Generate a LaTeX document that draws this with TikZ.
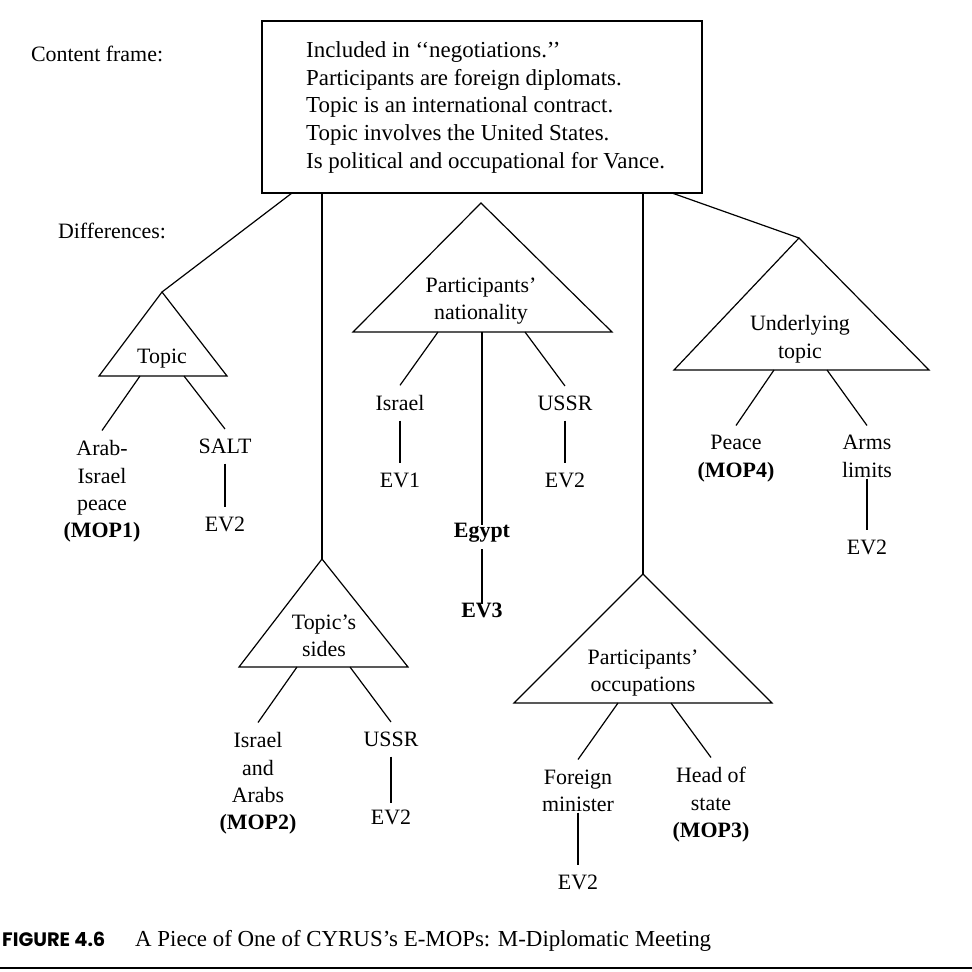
\documentclass[tikz,border=0pt]{standalone}
\usepackage{fontspec}
\setmainfont{Liberation Serif}
\newfontfamily\capsans{Poppins}
\begin{document}
\begin{tikzpicture}[x=1bp,y=-1bp,
  lbl/.style={font=\fontsize{22}{27.5}\selectfont, inner sep=0pt, outer sep=10bp, align=center},
  plain/.style={font=\fontsize{22}{27.5}\selectfont, inner sep=0pt, outer sep=0pt},
  ln/.style={line width=1.2bp},
  tri/.style={line width=1.2bp, line join=miter}]
\useasboundingbox (0,0) rectangle (972,972);

% content frame
\node[plain, anchor=base west] (cf) at (31,61) {Content frame:};
\node[plain, anchor=base west] (diff) at (58,238) {Differences:};
\node[draw, line width=1.2bp, minimum width=440bp, minimum height=172bp, inner sep=0pt] (box) at (482,107) {};
\node[inner sep=0pt, align=left, anchor=north west, font=\fontsize{23}{27.8}\selectfont] (boxtxt) at (306,41.5)
  {Included in ‘‘negotiations.’’\\Participants are foreign diplomats.\\Topic is an international contract.\\Topic involves the United States.\\Is political and occupational for Vance.};

% attachment points on the box
\coordinate (bx1) at (292,193);
\coordinate (bx2) at (322,193);
\coordinate (bx3) at (643,193);
\coordinate (bx4) at (672,193);

% ---- Topic triangle
\coordinate (tA) at (162,292);
\coordinate (tL) at (99,376);
\coordinate (tR) at (227,376);
\coordinate (tb1) at (140,376);
\coordinate (tb2) at (184,376);
\draw[tri] (tA) -- (tL) -- (tR) -- cycle;
\node[lbl, anchor=base] (topicT) at (162,363) {Topic};
\node[lbl, anchor=north] (arab) at (102,430.5) {Arab-\\Israel\\peace\\\textbf{(MOP1)}};
\node[lbl, anchor=base] (salt) at (225,453.5) {SALT};
\node[lbl, anchor=base] (evA) at (225,531.5) {EV2};
\draw[ln] (bx1) -- (tA);
\draw[ln] (tb1) -- (arab.north);
\draw[ln] (tb2) -- (salt.north);
\draw[ln] (salt.south) -- (evA.north);

% ---- Topic's sides triangle
\coordinate (sA) at (322,559);
\coordinate (sL) at (239,667);
\coordinate (sR) at (408,667);
\coordinate (sb1) at (297,667);
\coordinate (sb2) at (350,667);
\draw[tri] (sA) -- (sL) -- (sR) -- cycle;
\node[lbl, anchor=north] (sidesT) at (324,604.5) {Topic’s\\sides};
\node[lbl, anchor=north] (isr2) at (258,722.5) {Israel\\and\\Arabs\\\textbf{(MOP2)}};
\node[lbl, anchor=base] (ussr2) at (391,746.5) {USSR};
\node[lbl, anchor=base] (evB) at (391,824.5) {EV2};
\draw[ln] (bx2) -- (sA);
\draw[ln] (sb1) -- (isr2.north);
\draw[ln] (sb2) -- (ussr2.north);
\draw[ln, shorten >=-3bp] (ussr2.south) -- (evB.north);

% ---- Participants' nationality triangle
\coordinate (nA) at (481,203);
\coordinate (nL) at (353,332);
\coordinate (nR) at (612,332);
\coordinate (nb1) at (438,332);
\coordinate (nb2) at (482,332);
\coordinate (nb3) at (525,332);
\draw[tri] (nA) -- (nL) -- (nR) -- cycle;
\node[lbl, anchor=north] (natT) at (481,267.5) {Participants’\\nationality};
\node[lbl, anchor=base] (isr1) at (400,410.5) {Israel};
\node[lbl, anchor=base] (ev1) at (400,487.5) {EV1};
\node[lbl, anchor=base] (ussr1) at (565,410.5) {USSR};
\node[lbl, anchor=base] (evC) at (565,487.5) {EV2};
\node[lbl, anchor=base, font=\fontsize{22}{27.5}\selectfont\bfseries, outer sep=7bp] (egypt) at (482,537.5) {Egypt};
\node[lbl, anchor=base, font=\fontsize{22}{27.5}\selectfont\bfseries, outer sep=7bp] (ev3) at (482,617.5) {EV3};
\draw[ln] (nb1) -- (isr1.north);
\draw[ln] (nb3) -- (ussr1.north);
\draw[ln, shorten >=-9bp] (nb2) -- (egypt.north);
\draw[ln] (isr1.south) -- (ev1.north);
\draw[ln] (ussr1.south) -- (evC.north);
\draw[ln, shorten >=-8bp] (egypt.south) -- (ev3.north);

% ---- Participants' occupations triangle
\coordinate (oA) at (643,574);
\coordinate (oL) at (514,703);
\coordinate (oR) at (772,703);
\coordinate (ob1) at (618,703);
\coordinate (ob2) at (671,703);
\draw[tri] (oA) -- (oL) -- (oR) -- cycle;
\node[lbl, anchor=north] (occT) at (643,639.5) {Participants’\\occupations};
\node[lbl, anchor=north] (foreign) at (578,759.5) {Foreign\\minister};
\node[lbl, anchor=base] (evD) at (578,889.5) {EV2};
\node[lbl, anchor=north] (head) at (711,757.5) {Head of\\state\\\textbf{(MOP3)}};
\draw[ln] (bx3) -- (oA);
\draw[ln] (ob1) -- (foreign.north);
\draw[ln] (ob2) -- (head.north);
\draw[ln, shorten <=-9bp] (foreign.south) -- (evD.north);

% ---- Underlying topic triangle
\coordinate (uA) at (799,238);
\coordinate (uL) at (674,370);
\coordinate (uR) at (929,370);
\coordinate (ub1) at (774,370);
\coordinate (ub2) at (827,370);
\draw[tri] (uA) -- (uL) -- (uR) -- cycle;
\node[lbl, anchor=north] (undT) at (800,305.5) {Underlying\\topic};
\node[lbl, anchor=north] (peace) at (736,425.5) {Peace\\\textbf{(MOP4)}};
\node[lbl, anchor=north] (arms) at (867,425.5) {Arms\\limits};
\node[lbl, anchor=base] (evE) at (867,554.5) {EV2};
\draw[ln] (bx4) -- (uA);
\draw[ln] (ub1) -- (peace.north);
\draw[ln] (ub2) -- (arms.north);
\draw[ln, shorten <=-9bp] (arms.south) -- (evE.north);

% ---- caption
\node[inner sep=0pt, anchor=base west, font=\fontsize{19.5}{24}\selectfont\capsans\bfseries] (figlbl) at (2,946) {FIGURE 4.6};
\node[inner sep=0pt, anchor=base west, font=\fontsize{23}{27}\selectfont] (figtxt) at (135,946) {A Piece of One of CYRUS’s E-MOPs: M-Diplomatic Meeting};
\coordinate (rl) at (0,968);
\coordinate (rr) at (972,968);
\draw[line width=1.6bp] (rl) -- (rr);
\end{tikzpicture}
\end{document}
